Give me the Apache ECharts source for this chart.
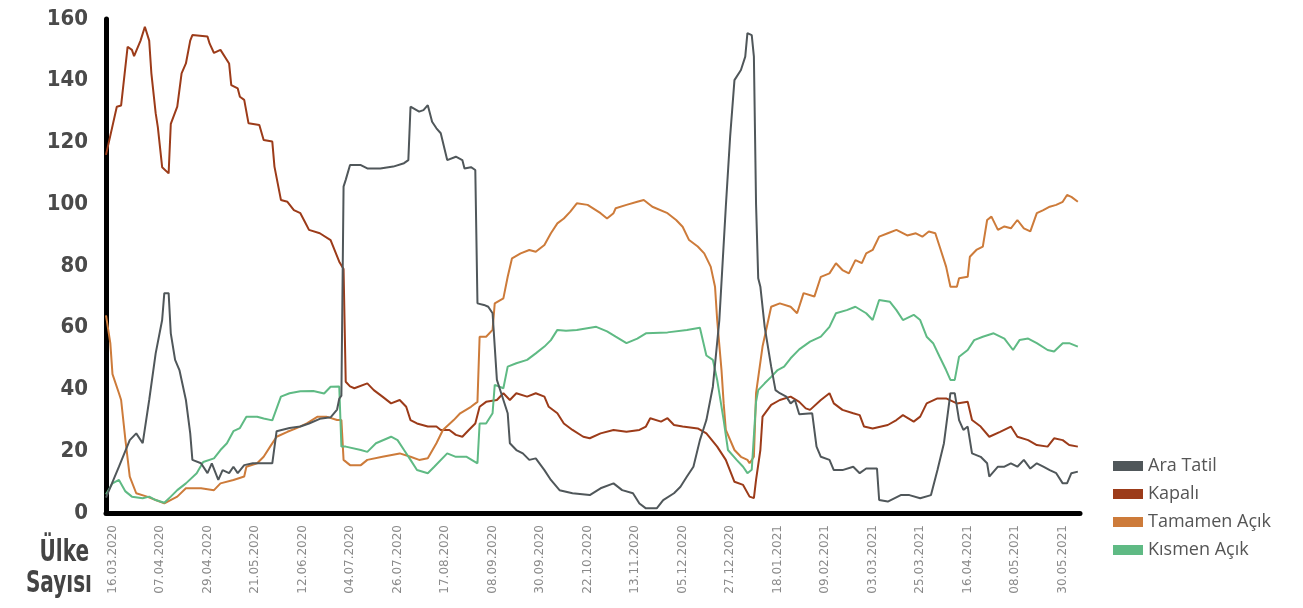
<!DOCTYPE html>
<html>
<head>
<meta charset="utf-8">
<script src="https://cdn.jsdelivr.net/npm/echarts@6/dist/echarts.min.js"></script>
<style>
  html, body { margin: 0; padding: 0; background: #fff; }
  #chart { width: 1303px; height: 608px; }
</style>
</head>
<body>
<div id="chart"></div>
<script>
// x = days since 16.03.2020, y = number of countries
const seriesNames = ["Ara Tatil", "Kapalı", "Tamamen Açık", "Kısmen Açık"];
const seriesColors = ["#50575a", "#9c3b19", "#cd7b3a", "#5fba84"];

const tickLabels = [
  "16.03.2020", "07.04.2020", "29.04.2020", "21.05.2020", "12.06.2020",
  "04.07.2020", "26.07.2020", "17.08.2020", "08.09.2020", "30.09.2020",
  "22.10.2020", "13.11.2020", "05.12.2020", "27.12.2020", "18.01.2021",
  "09.02.2021", "03.03.2021", "25.03.2021", "16.04.2021", "08.05.2021",
  "30.05.2021"
];

const araTatil = [
  [-3, 5], [3, 15], [8, 23.6], [11, 25.8], [14, 22.6], [17, 36.6], [20, 51.7],
  [23, 62.5], [24, 71.2], [26, 71.2], [27, 58.2], [29, 49.6], [31, 46.3],
  [34, 36.6], [36, 25.8], [37, 17.2], [41, 16.1], [44, 12.9], [46, 16.1],
  [49, 10.7], [51, 13.9], [54, 12.9], [56, 15], [58, 12.9], [61, 15.5],
  [65, 16.1], [74, 16.1], [76, 26.5], [82, 27.5], [87, 28], [91, 29],
  [96, 30.5], [101, 31], [104, 33.5], [105, 37], [106, 38], [107, 105.7],
  [108, 107.9], [110, 112.7], [115, 112.7], [118, 111.6], [124, 111.6],
  [130, 112.2], [135, 113.3], [137, 114.3], [138, 131.6], [142, 130],
  [144, 130.5], [146, 132.1], [148, 126.7], [150, 124.6], [152, 123],
  [155, 114.3], [159, 115.4], [162, 114.3], [163, 111.6], [166, 112],
  [168, 111.1], [169, 67.9], [172, 67.4], [174, 66.8], [176, 64.7],
  [178, 43.1], [180, 38.8], [183, 32.3], [184, 22.6], [187, 20.4],
  [190, 19.3], [193, 17.2], [196, 17.7], [200, 13.9], [203, 10.7],
  [207, 7.4], [213, 6.4], [221, 5.8], [226, 8], [232, 9.6], [236, 7.4],
  [241, 6.4], [244, 3.1], [247, 1.5], [252, 1.5], [255, 4.2], [260, 6.4],
  [263, 8.5], [266, 11.8], [269, 15], [272, 23.6], [275, 30.1], [278, 40.9],
  [281, 62.5], [284, 99.2], [286, 121.9], [288, 140.2], [291, 143.5],
  [293, 147.8], [294, 155.4], [296, 154.8], [297, 147.8], [298, 100],
  [299, 76], [300, 73.3], [302, 60.3], [305, 47.4], [307, 39.8], [309, 38.8],
  [312, 37.7], [314, 35.5], [316, 36.6], [318, 32], [324, 32.3], [326, 21.5],
  [328, 18.2], [332, 17.2], [334, 13.9], [338, 13.9], [343, 15], [346, 12.9],
  [349, 14.4], [354, 14.4], [355, 4.2], [359, 3.7], [365, 5.8], [369, 5.8],
  [374, 4.8], [379, 5.8], [382, 13.9], [385, 22.6], [388, 38.8], [390, 38.8],
  [392, 30.1], [394, 26.9], [396, 28], [398, 19.3], [402, 18.2], [405, 16.1],
  [406, 11.8], [410, 15], [413, 15], [416, 16.1], [419, 15], [422, 17.2],
  [425, 14.4], [428, 16.1], [431, 15], [434, 13.9], [437, 12.9], [440, 9.6],
  [442, 9.6], [444, 12.9], [447, 13.4]
];

const kapali = [
  [-3, 116], [2, 131.6], [4, 132], [7, 151], [9, 150], [10, 148], [13, 153],
  [15, 157.5], [17, 153], [18, 142.5], [20, 129.5], [21, 125], [23, 112],
  [26, 110], [27, 126], [30, 131.6], [32, 142.4], [34, 145.6], [36, 153],
  [37, 154.8], [44, 154.3], [45, 152], [47, 149], [50, 150], [54, 145.6],
  [55, 138.6], [58, 137.5], [59, 134.8], [61, 133.8], [63, 126.2],
  [68, 125.7], [70, 120.8], [74, 120.3], [75, 112.2], [78, 101.4],
  [81, 100.8], [84, 98.1], [87, 97.1], [89, 94.4], [91, 91.7], [96, 90.6],
  [101, 88.4], [105, 81.4], [107, 79], [108, 42.5], [110, 41], [112, 40.4],
  [118, 42], [121, 39.8], [125, 37.7], [129, 35.5], [133, 36.6], [136, 34.4],
  [138, 30.1], [141, 29], [146, 28], [150, 28], [152, 26.9], [156, 26.9],
  [159, 25.3], [162, 24.7], [165, 26.9], [168, 29], [170, 34.4], [173, 36],
  [178, 36.6], [181, 38.8], [184, 36.6], [187, 38.8], [192, 37.7],
  [196, 38.8], [200, 37.7], [202, 34.4], [206, 32.3], [209, 29], [213, 26.9],
  [218, 24.7], [221, 24.2], [226, 25.8], [232, 26.9], [238, 26.3],
  [244, 26.9], [247, 28], [249, 30.7], [254, 29.6], [257, 30.7], [260, 28.5],
  [264, 28], [271, 27.4], [275, 25.8], [280, 21.5], [284, 17.2], [288, 10.1],
  [292, 9.1], [295, 5.3], [297, 4.8], [298, 10.7], [300, 20.4], [301, 31.2],
  [305, 35], [309, 36.6], [314, 37.7], [318, 36], [321, 33.9], [323, 33.4],
  [328, 36.6], [332, 38.8], [334, 35.5], [338, 33.4], [343, 32.3],
  [346, 31.7], [348, 28], [352, 27.4], [359, 28.5], [363, 30.1], [366, 31.7],
  [371, 29.6], [374, 31.2], [377, 35.5], [382, 37.1], [386, 37.1],
  [391, 35.5], [396, 36], [398, 30.1], [402, 28], [406, 24.7], [411, 26.3],
  [416, 28], [419, 24.7], [424, 23.6], [428, 22], [433, 21.5], [436, 24.2],
  [440, 23.6], [443, 22], [447, 21.5]
];

const tamamenAcik = [
  [-3, 64], [-1, 55], [0, 45], [3, 38.8], [4, 36.6], [6, 23.6], [8, 11.8],
  [11, 6.4], [16, 5.3], [20, 4.2], [24, 3.1], [30, 5.3], [34, 8], [41, 8],
  [47, 7.4], [50, 9.6], [56, 10.7], [61, 11.8], [62, 15], [67, 16.1],
  [70, 18.2], [73, 21.5], [76, 24.7], [81, 26.3], [85, 27.4], [90, 29],
  [95, 31.2], [99, 31.2], [104, 30.1], [106, 30.1], [107, 17.2], [110, 15.5],
  [115, 15.5], [118, 17.2], [125, 18.2], [133, 19.3], [138, 18.2],
  [142, 17.2], [146, 17.7], [150, 22.6], [153, 26.9], [158, 30.1],
  [161, 32.3], [166, 34.4], [169, 36], [170, 57.1], [173, 57.1], [176, 59.3],
  [177, 67.9], [181, 69.5], [183, 76.5], [185, 82.5], [189, 84.1],
  [193, 85.2], [196, 84.6], [200, 86.8], [203, 90.6], [206, 93.8],
  [209, 95.4], [212, 97.6], [215, 100.3], [220, 99.8], [226, 97.1],
  [229, 95.4], [232, 97.1], [233, 98.7], [238, 99.8], [243, 100.8],
  [246, 101.4], [250, 99.2], [257, 97.1], [261, 94.9], [264, 92.7],
  [267, 88.4], [271, 86.3], [274, 84.1], [277, 79.8], [279, 73.3],
  [280, 62.5], [282, 46.3], [283, 35.5], [284, 26.9], [288, 20.4],
  [291, 18.2], [294, 17.2], [295, 16.1], [297, 18.2], [298, 38.8],
  [301, 53.9], [303, 60.3], [305, 66.8], [309, 67.9], [314, 66.8],
  [317, 64.7], [320, 71.2], [325, 70.1], [328, 76.5], [332, 77.6],
  [335, 80.9], [338, 78.7], [341, 77.6], [344, 81.9], [347, 80.9],
  [349, 84.1], [352, 85.2], [355, 89.5], [359, 90.6], [363, 91.7],
  [368, 89.9], [372, 90.6], [375, 89.5], [378, 91.2], [381, 90.6],
  [383, 86.3], [386, 79.8], [388, 73.3], [391, 73.3], [392, 76], [396, 76.5],
  [397, 83], [400, 85.2], [403, 86.3], [405, 94.9], [407, 96], [410, 91.7],
  [413, 92.8], [416, 92.2], [419, 94.9], [422, 92.2], [425, 91.2],
  [428, 97.1], [431, 98.1], [434, 99.2], [437, 99.8], [440, 100.8],
  [442, 103], [444, 102.4], [447, 100.8]
];

const kismenAcik = [
  [-3, 6], [0, 9.6], [3, 10.7], [6, 7], [9, 5.3], [14, 4.8], [17, 5.3],
  [20, 4.2], [24, 3.3], [27, 5.3], [30, 7.4], [34, 9.6], [39, 12.9],
  [42, 16.5], [47, 17.7], [50, 20.4], [53, 22.6], [56, 26.5], [59, 27.5],
  [62, 31.2], [67, 31.2], [70, 30.6], [74, 30], [78, 37.7], [82, 38.8],
  [87, 39.4], [93, 39.5], [98, 38.7], [101, 40.9], [105, 41], [106, 21.5],
  [108, 21.5], [115, 20.4], [118, 19.8], [122, 22.6], [129, 24.7],
  [132, 23.6], [135, 20.4], [138, 17.2], [141, 13.9], [146, 12.9], [149, 15],
  [155, 19.3], [159, 18.2], [164, 18.2], [169, 16.1], [170, 29], [173, 29],
  [176, 32.3], [177, 41.5], [181, 40.4], [183, 47.4], [187, 48.5],
  [192, 49.6], [196, 51.7], [200, 53.9], [203, 56], [206, 59.3], [210, 59],
  [215, 59.3], [224, 60.3], [229, 58.8], [233, 57.1], [238, 55], [243, 56.5],
  [247, 58.2], [257, 58.5], [266, 59.3], [272, 60], [275, 51], [278, 49.6],
  [280, 43.1], [283, 30.1], [285, 20.4], [289, 17.2], [292, 15], [294, 12.9],
  [296, 14], [298, 36], [299, 39.8], [302, 42], [305, 44.1], [308, 46.3],
  [311, 47.4], [314, 50.1], [318, 53], [323, 55.5], [328, 57.1], [332, 60.3],
  [335, 64.7], [340, 65.7], [344, 66.8], [349, 64.7], [352, 62.5], [355, 69],
  [360, 68.4], [363, 65.7], [366, 62.5], [371, 64.2], [374, 62.5],
  [377, 57.1], [380, 55], [383, 50.6], [386, 46.3], [388, 43.1], [390, 43.1],
  [392, 50.6], [396, 52.8], [399, 56], [403, 57.1], [408, 58.2], [413, 56.5],
  [417, 52.8], [420, 56], [424, 56.5], [428, 55], [433, 52.8], [436, 52.3],
  [440, 55], [443, 55], [447, 53.9]
];

const seriesData = [araTatil, kapali, tamamenAcik, kismenAcik];

// tick label -> day offset
const DAY = 24 * 3600 * 1000;
function parseDay(s) {
  const [d, m, y] = s.split(".").map(Number);
  return Math.round((Date.UTC(y, m - 1, d) - Date.UTC(2020, 2, 16)) / DAY);
}
const tickDays = tickLabels.map(parseDay);
const labelByDay = {};
tickDays.forEach((d, i) => { labelByDay[d] = tickLabels[i]; });

const condensed = "'DejaVu Sans Condensed', 'Roboto', sans-serif";

const myChart = echarts.init(document.getElementById("chart"));

myChart.setOption({
  animation: false,
  color: seriesColors,
  grid: {
    left: 106,
    right: 223,
    top: 19,
    bottom: 95,
    containLabel: false,
    outerBoundsMode: "none",
  },
  legend: {
    orient: "vertical",
    left: 1108,
    top: 452,
    icon: "rect",
    itemWidth: 30,
    itemHeight: 10,
    itemGap: 10,
    itemStyle: { borderWidth: 0 },
    data: seriesNames,
    textStyle: {
      fontFamily: "'Open Sans'",
      fontSize: 18,
      color: "#555",
    },
  },
  xAxis: {
    type: "value",
    min: -3,
    max: 448,
    splitLine: { show: false },
    axisTick: { show: false },
    axisLine: {
      show: true,
      onZero: false,
      lineStyle: { color: "#000", width: 5 },
    },
    axisLabel: {
      customValues: tickDays,
      rotate: 90,
      margin: 12,
      fontFamily: "DejaVu Sans",
      fontSize: 12,
      color: "#8a8a8a",
      formatter: (v) => labelByDay[v] || "",
    },
  },
  yAxis: {
    type: "value",
    min: 0,
    max: 160,
    interval: 20,
    splitLine: { show: false },
    axisTick: { show: false },
    axisLine: {
      show: true,
      onZero: false,
      lineStyle: { color: "#000", width: 5 },
    },
    axisLabel: {
      margin: 18,
      fontFamily: condensed,
      fontWeight: "bold",
      fontSize: 22,
      color: "#4a4a4a",
    },
  },
  graphic: [
    {
      type: "text",
      x: 89,
      y: 553,
      scaleX: 0.72,
      style: {
        text: "Ülke",
        font: "bold 31px " + condensed,
        fill: "#444",
        align: "right",
        verticalAlign: "middle",
      },
    },
    {
      type: "text",
      x: 92,
      y: 584,
      scaleX: 0.72,
      style: {
        text: "Sayısı",
        font: "bold 31px " + condensed,
        fill: "#444",
        align: "right",
        verticalAlign: "middle",
      },
    },
  ],
  series: seriesNames.map((name, i) => ({
    name: name,
    type: "line",
    data: seriesData[i],
    showSymbol: false,
    symbol: "none",
    lineStyle: { width: 2, color: seriesColors[i] },
    z: i === 0 ? 3 : 2,
  })),
});
</script>
</body>
</html>
